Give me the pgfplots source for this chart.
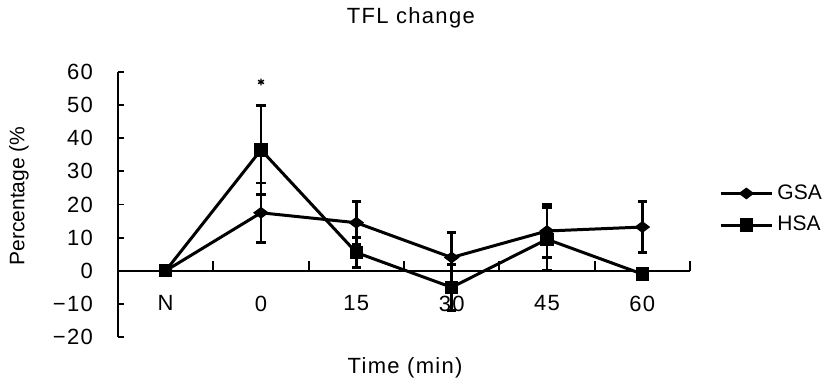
\documentclass[border=0pt]{standalone}
\usepackage{fontspec}
\setmainfont{Liberation Sans}
\newfontfamily\wide{Liberation Sans}[LetterSpace=6]
\usepackage{pgfplots}
\usepackage{pgfplotstable}
\pgfplotsset{compat=1.18}

\pgfplotstableread{
x y
0 0
1 17.5
2 14.5
3 4
4 12
5 13.2
}\gsa
\pgfplotstableread{
x y
0 0
1 36.5
2 5.5
3 -5
4 9.5
5 -1
}\hsa

\begin{document}
\begin{tikzpicture}
\path[use as bounding box] (-59pt,-22pt) rectangle (356pt,168.5pt);
\begin{axis}[
  at={(0,0)}, anchor=south west, scale only axis,
  width=286pt, height=132.5pt,
  xmin=-0.5, xmax=5.5, ymin=-20, ymax=60,
  axis y line=left, axis x line=middle,
  axis line style={-, line width=0.9pt},
  tick align=inside,
  major tick length=3pt,
  minor tick length=5pt,
  tick style={line width=0.9pt, black},
  ytick={-20,-10,...,60},
  yticklabels={−20,−10,0,10,20,30,40,50,60},
  xtick={0,...,5},
  xticklabels={N,0,15,30,45,60},
  minor xtick={0.5,1.5,2.5,3.5,4.5,5.5},
  major x tick style={draw=none},
  tick label style={font=\fontsize{11}{13}\selectfont\wide},
  yticklabel style={anchor=east, xshift=-9pt},
  xticklabel style={anchor=north, yshift=-9pt},
  every axis title/.style={at={(axis description cs:0.512,1.204)}, anchor=center, font=\fontsize{11}{13}\selectfont\wide},
  title={TFL change},
  every axis x label/.style={at={(axis description cs:0.502,-0.117)}, anchor=center, font=\fontsize{11}{13}\selectfont\wide},
  xlabel={Time (min)},
  every axis y label/.style={at={(axis description cs:-0.173,0.532)}, anchor=center, rotate=90, font=\fontsize{10.5}{12}\selectfont},
  ylabel={Percentage (\%},
  legend style={draw=none, fill=none, at={(1.04,0.482)}, anchor=west,
    font=\fontsize{10.5}{12}\selectfont, row sep=3pt},
  legend cell align=left,
  legend image code/.code={\draw[mark repeat=2,mark phase=2,#1] plot coordinates {(0cm,0cm) (0.45cm,0cm) (0.9cm,0cm)};},
  clip=false,
  unbounded coords=jump,
]
% error bars (low/high) for GSA and HSA
\addplot[forget plot, black, line width=1.4pt, mark=-, mark size=2.4pt, mark options={solid, line width=1.4pt}]
  coordinates {(1,8.5) (1,26.5) (1,nan)
               (2,8) (2,21) (2,nan)
               (3,-3.5) (3,11.5) (3,nan)
               (4,4) (4,20) (4,nan)
               (5,5.5) (5,20.9)};
\addplot[forget plot, black, line width=1.4pt, mark=-, mark size=2.4pt, mark options={solid, line width=1.4pt}]
  coordinates {(1,23) (1,50) (1,nan)
               (2,1) (2,10) (2,nan)
               (3,-12) (3,2) (3,nan)
               (4,0) (4,19) (4,nan)
               (5,-2.5) (5,0.5)};
\addplot[black, line width=1.5pt, mark=diamond*, mark size=2.7pt, mark options={rotate=90, solid}]
  table[x=x, y=y]{\gsa};
\addlegendentry{GSA}
\addplot[black, line width=1.5pt, mark=square*, mark size=2.6pt, mark options={solid}]
  table[x=x, y=y]{\hsa};
\addlegendentry{HSA}
\addplot[forget plot, only marks, black, mark=asterisk, mark size=1.7pt, mark options={line width=0.7pt}]
  coordinates {(1,57)};
\end{axis}
\end{tikzpicture}
\end{document}
